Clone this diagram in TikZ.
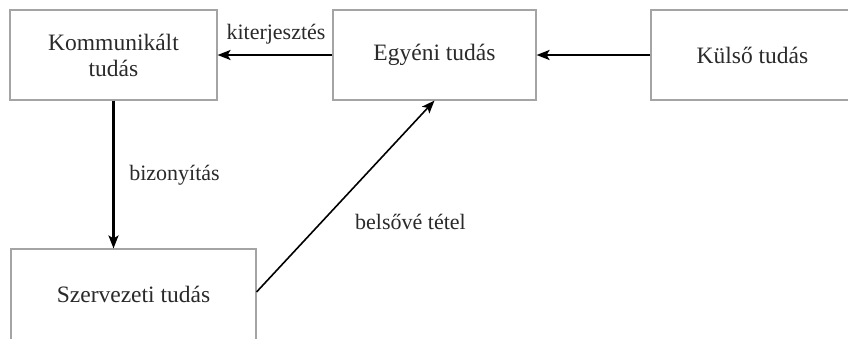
\documentclass[tikz,border=0pt]{standalone}
\usepackage{fontspec}
\setmainfont{Liberation Serif}
\usetikzlibrary{arrows.meta}
\definecolor{boxline}{HTML}{A4A4A4}
\definecolor{ink}{HTML}{2A2A2A}
\tikzset{
  kbox/.style={draw=boxline, line width=1.1pt, fill=white, text=ink,
    inner sep=0pt, align=center, font=\fontsize{23.5}{26}\selectfont},
  flow/.style={draw=black, line width=2.1pt,
    -{Stealth[length=13pt,width=10pt,inset=3pt]}},
  thinflow/.style={draw=black, line width=1.6pt,
    -{Stealth[length=13pt,width=10pt,inset=3pt]}},
  lbl/.style={text=ink, inner sep=0pt, font=\fontsize{22}{24}\selectfont}
}
\begin{document}
\begin{tikzpicture}[x=1pt, y=-1pt]
  \useasboundingbox (0,0) rectangle (848,338);
  % knowledge boxes
  \node[kbox, minimum width=207pt, minimum height=90pt] (komm) at (113.5,55)
    {Kommunikált\\tudás};
  \node[kbox, minimum width=203pt, minimum height=90pt] (egyeni) at (434.5,55)
    {Egyéni tudás};
  \node[kbox, minimum width=203pt, minimum height=90pt] (kulso) at (752.5,55)
    {Külső tudás};
  \node[kbox, minimum width=245pt, minimum height=91pt] (szerv) at (133.5,294.5)
    {Szervezeti tudás};
  % transfers between the boxes
  \draw[flow] (kulso.west) -- (egyeni.east);
  \draw[flow] (egyeni.west) -- (komm.east);
  \draw[flow] (komm.south) -- (komm.south |- szerv.north);
  \draw[thinflow] ([yshift=2.5pt]szerv.east) -- (egyeni.south);
  % labels of the transfers
  \node[lbl] (lkit) at (276,34) {kiterjesztés};
  \node[lbl] (lbiz) at (174.5,175) {bizonyítás};
  \node[lbl] (lbel) at (410.5,222) {belsővé tétel};
\end{tikzpicture}
\end{document}
